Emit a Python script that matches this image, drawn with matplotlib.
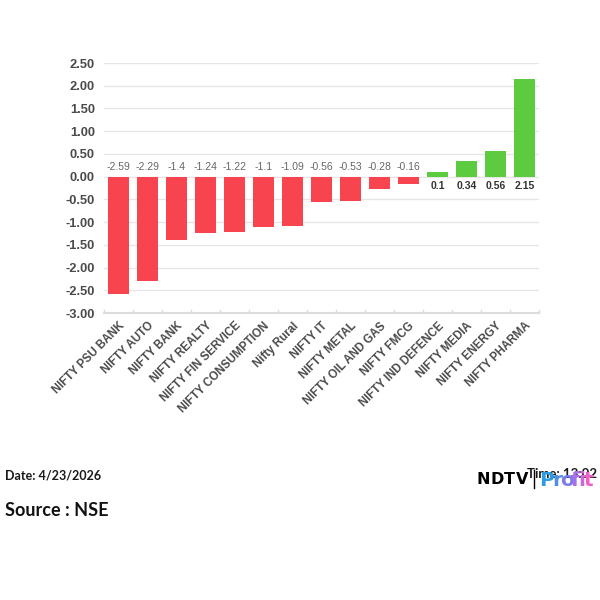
import matplotlib
matplotlib.use('Agg')
import matplotlib.pyplot as plt

# sector index moves, % change
names = ['NIFTY PSU BANK', 'NIFTY AUTO', 'NIFTY BANK', 'NIFTY REALTY', 'NIFTY FIN SERVICE',
         'NIFTY CONSUMPTION', 'Nifty Rural', 'NIFTY IT', 'NIFTY METAL', 'NIFTY OIL AND GAS',
         'NIFTY FMCG', 'NIFTY IND DEFENCE', 'NIFTY MEDIA', 'NIFTY ENERGY', 'NIFTY PHARMA']
values = [-2.59, -2.29, -1.4, -1.24, -1.22, -1.1, -1.09, -0.56, -0.53, -0.28, -0.16, 0.1, 0.34, 0.56, 2.15]
y_ticks = [2.5, 2.0, 1.5, 1.0, 0.5, 0.0, -0.5, -1.0, -1.5, -2.0, -2.5, -3.0]

W = 600.0
H = 600.0
RED = '#F7444E'
GREEN = '#5CCB3F'
GRID = '#E6E6E6'

fig = plt.figure(figsize=(6, 6), dpi=100)
ax = fig.add_axes([104 / W, 1 - 313 / H, 435 / W, 250 / H])

colors = [RED if v < 0 else GREEN for v in values]
xs = list(range(len(values)))
ax.bar(xs, values, width=0.75, color=colors, zorder=3)

ax.set_xlim(-0.5, len(values) - 0.5)
ax.set_ylim(-3, 2.5)
ax.set_yticks(y_ticks)
ax.set_yticklabels(['%.2f' % t for t in y_ticks], fontsize=9.3, fontweight='bold',
                   family='Liberation Sans', color='#4a4a4a')
ax.tick_params(axis='y', length=0, pad=6.5)
ax.grid(axis='y', color=GRID, linewidth=1, zorder=0)
ax.set_axisbelow(True)
for s in ax.spines.values():
    s.set_visible(False)

# category ticks sit between the bars
ax.set_xticks(xs)
ax.set_xticklabels(names, rotation=45, ha='right', rotation_mode='anchor', fontsize=8.3,
                   family='Liberation Sans', fontweight='bold', color='#4a4a4a')
ax.tick_params(axis='x', length=0, pad=5)
ax.spines['bottom'].set_visible(True)
ax.spines['bottom'].set_color('#DDDDDD')
ax.spines['bottom'].set_linewidth(1.5)
for i in range(len(values) + 1):
    ax.plot([i - 0.5, i - 0.5], [-3, -2.93], color='#DDDDDD', linewidth=1, clip_on=False, zorder=1)

# labels go on the opposite side of zero from the bar
for x, v in zip(xs, values):
    if v < 0:
        ax.annotate(str(v), (x, 0), xytext=(0, 3.5), textcoords='offset points', ha='center', va='bottom',
                    fontsize=7.5, family='Liberation Sans', color='#666666', zorder=4)
    else:
        ax.annotate(str(v), (x, 0), xytext=(0, -3.5), textcoords='offset points', ha='center', va='top',
                    fontsize=7.5, family='Liberation Sans', fontweight='bold', color='#333333', zorder=4)

fig.text(5 / W, 1 - 475 / H, 'Date: 4/23/2026', fontsize=9, family='Lato', fontweight='bold',
         color='#1a1a1a', va='center')
fig.text(5 / W, 1 - 510 / H, 'Source : NSE', fontsize=13, family='Lato', fontweight='bold',
         color='#111111', va='center')

# time text is partly covered by the logo in the source image
fig.text(597 / W, 1 - 474 / H, 'Time: 13:02', fontsize=9.5, family='Lato', fontweight='bold',
         color='#1a1a1a', va='center', ha='right', zorder=1)

# logo, letter by letter so the spacing can follow the wide NDTV wordmark
for ch, lx in zip(['N', 'D', 'T', 'V'], [476, 490, 504, 516]):
    fig.text(lx / W, 1 - 479 / H, ch, fontsize=11.5, family='DejaVu Sans', fontweight='bold',
             color='black', va='center', ha='left', zorder=2)
fig.add_artist(plt.Line2D([534 / W, 534 / W], [1 - 488 / H, 1 - 470 / H], color='black', linewidth=1))

letters = ['P', 'r', 'o', 'f', 'i', 't']
letter_x = [539, 552, 560, 571, 578, 584]
letter_c = ['#2F9BE0', '#4E8FE8', '#7C7BEA', '#A86FE6', '#D066DC', '#F05FC8']
for ch, lx, lc in zip(letters, letter_x, letter_c):
    fig.text(lx / W, 1 - 480 / H, ch, fontsize=14.5, family='DejaVu Sans', fontweight='bold',
             color=lc, va='center', ha='left', zorder=3)

fig.savefig('out.png', dpi=100, facecolor='white')
